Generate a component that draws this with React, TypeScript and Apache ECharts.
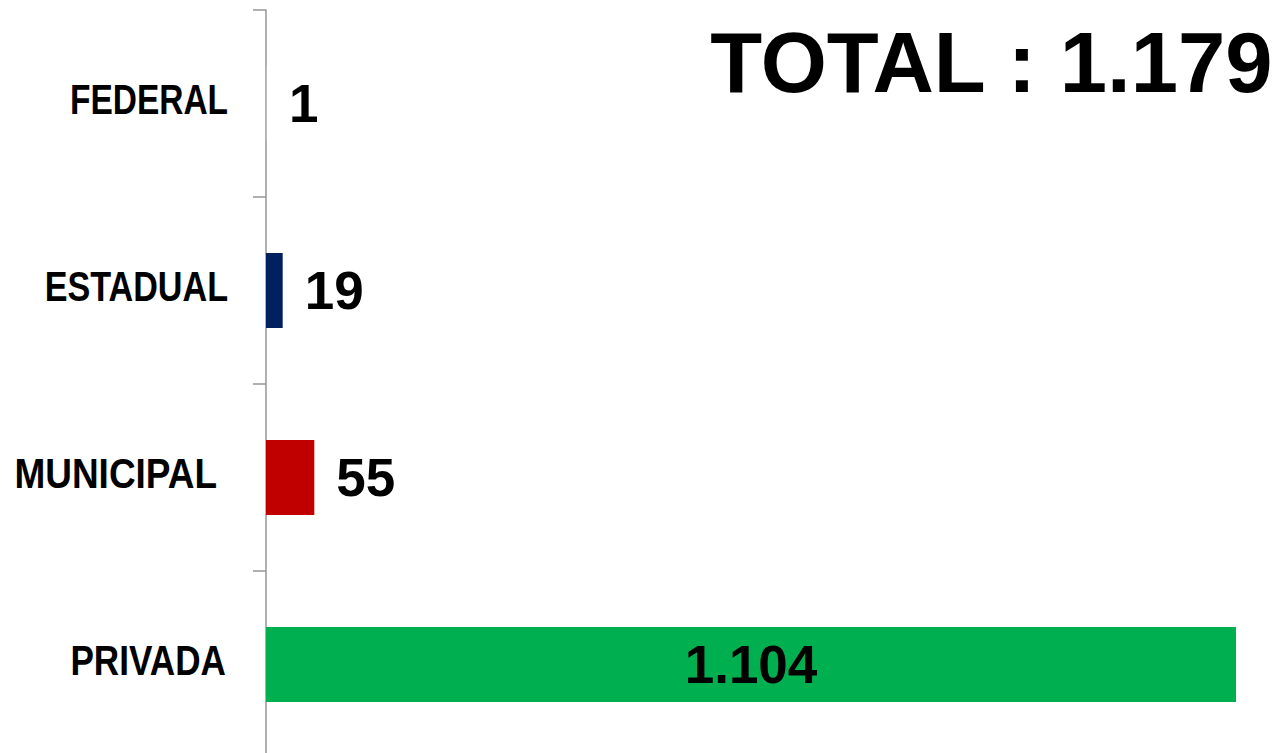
import React, { useEffect, useRef } from "react";
import * as echarts from "echarts";

const categories = ["FEDERAL", "ESTADUAL", "MUNICIPAL", "PRIVADA"];
const values = [1, 19, 55, 1104];
const barColors = ["#bdbdbd", "#002060", "#C00000", "#00B050"];
const valueLabels = ["1", "19", "55", "1.104"];
const totalText = "TOTAL : 1.179";

// label look (condensed bold face), per category
const labelRight: Record<string, number> = { FEDERAL: 228, ESTADUAL: 228, MUNICIPAL: 217, PRIVADA: 226 };
const labelScale: Record<string, number> = { FEDERAL: 0.797, ESTADUAL: 0.813, MUNICIPAL: 0.88, PRIVADA: 0.837 };

export default function App() {
  const ref = useRef<HTMLDivElement>(null);
  useEffect(() => {
    document.body.style.margin = "0";
    const chart = echarts.init(ref.current!, undefined, { renderer: "svg" });
    const lastIdx = values.length - 1;
    chart.setOption({
      animation: false,
      title: {
        text: totalText,
        right: 0,
        top: 15,
        textStyle: {
          fontFamily: "Liberation Sans, Arial, sans-serif",
          fontWeight: "bold",
          fontSize: 85,
          color: "#000",
        },
      },
      grid: { left: 266, right: 43, top: 10, bottom: -5, outerBoundsMode: "none", containLabel: false },
      xAxis: {
        type: "value",
        min: 0,
        max: values[lastIdx],
        show: false,
      },
      yAxis: {
        type: "category",
        inverse: true,
        data: categories,
        axisLine: { show: true, lineStyle: { color: "#969696", width: 1.5 } },
        axisTick: { show: true, length: 13, lineStyle: { color: "#969696", width: 1.5 } },
        axisLabel: { show: false },
        splitLine: { show: false },
      },
      series: [
        {
          type: "bar",
          barWidth: "40%",
          data: values.map((v, i) => ({
            value: v,
            itemStyle: { color: barColors[i] },
            label:
              i === lastIdx
                ? { position: "inside" }
                : { position: "right", distance: 22 },
          })),
          label: {
            show: true,
            formatter: (p: any) => valueLabels[p.dataIndex],
            fontFamily: "Liberation Sans, Arial, sans-serif",
            fontWeight: "bold",
            fontSize: 53,
            color: "#000",
          },
        },
      ],
    });
    // Category labels in a condensed bold face (Arial Narrow look), placed via the axis scale
    const labelEls = categories.map((c) => {
      const y = chart.convertToPixel({ yAxisIndex: 0 }, c) as number;
      return {
        type: "text",
        x: labelRight[c],
        y: y - 4,
        scaleX: labelScale[c],
        silent: true,
        style: {
          text: c,
          x: 0,
          y: 0,
          align: "right",
          verticalAlign: "middle",
          fontFamily: "Liberation Sans, Arial, sans-serif",
          fontWeight: "bold",
          fontSize: 42,
          fill: "#000",
        },
      };
    });
    chart.setOption({ graphic: labelEls });
    return () => chart.dispose();
  }, []);
  return <div ref={ref} style={{ width: 1279, height: 753 }} />;
}
